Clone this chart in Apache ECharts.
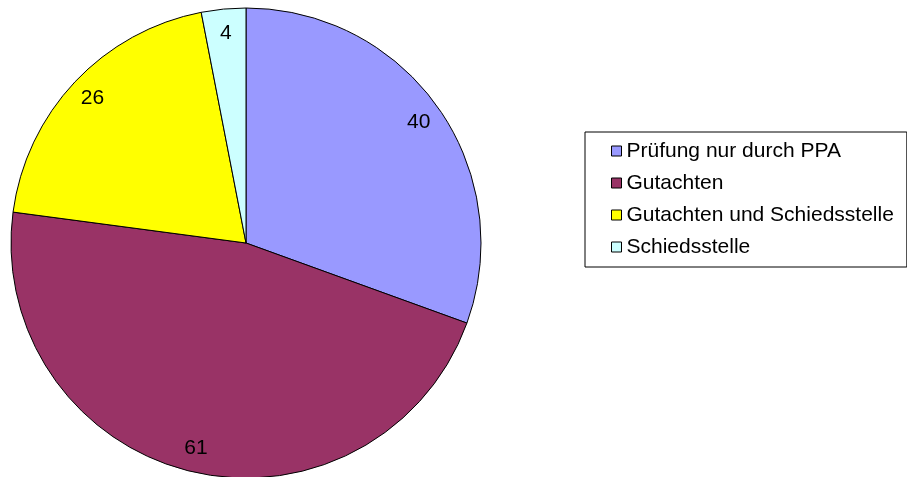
<!DOCTYPE html>
<html><head><meta charset="utf-8">
<script src="https://cdn.jsdelivr.net/npm/echarts@6/dist/echarts.min.js"></script>
<style>html,body{margin:0;padding:0;background:#fff}#c{width:907px;height:477px}</style>
</head><body><div id="c"></div>
<script>
const categories = ['Prüfung nur durch PPA', 'Gutachten', 'Gutachten und Schiedsstelle', 'Schiedsstelle'];
const values = [40, 61, 26, 4];
const colors = ['#9999FF', '#993366', '#FFFF00', '#CCFFFF'];

const chart = echarts.init(document.getElementById('c'), null, {renderer: 'canvas'});
const font = 'Liberation Sans, Arial, sans-serif';
const mainData = categories.map((n, i) => ({name: n, value: values[i], itemStyle: {color: colors[i]}}));
const labelData = categories.map((n, i) => ({name: n, value: values[i]}));
chart.setOption({
  animation: false,
  legend: {
    orient: 'vertical',
    left: 585, top: 132,
    padding: [8, 13, 9, 26],
    borderColor: '#000', borderWidth: 1,
    itemWidth: 10, itemHeight: 10, itemGap: 10,
    icon: 'rect',
    data: categories.map((n, i) => ({name: n, itemStyle: {color: colors[i], borderColor: '#000', borderWidth: 1}})),
    textStyle: {fontFamily: font, fontSize: 21, color: '#000', lineHeight: 22}
  },
  series: [{
    type: 'pie',
    center: [246, 243],
    radius: [0, 235],
    startAngle: 90,
    clockwise: true,
    silent: true,
    label: {show: false},
    labelLine: {show: false},
    itemStyle: {borderColor: '#000', borderWidth: 1},
    data: mainData
  }, {
    type: 'pie',
    center: [246, 243],
    radius: [181, 235],
    startAngle: 90,
    clockwise: true,
    silent: true,
    itemStyle: {color: 'rgba(0,0,0,0)', borderWidth: 0},
    label: {show: true, position: 'inside', formatter: '{c}', fontFamily: font, fontSize: 21, color: '#000'},
    labelLine: {show: false},
    data: labelData
  }]
});
</script></body></html>
